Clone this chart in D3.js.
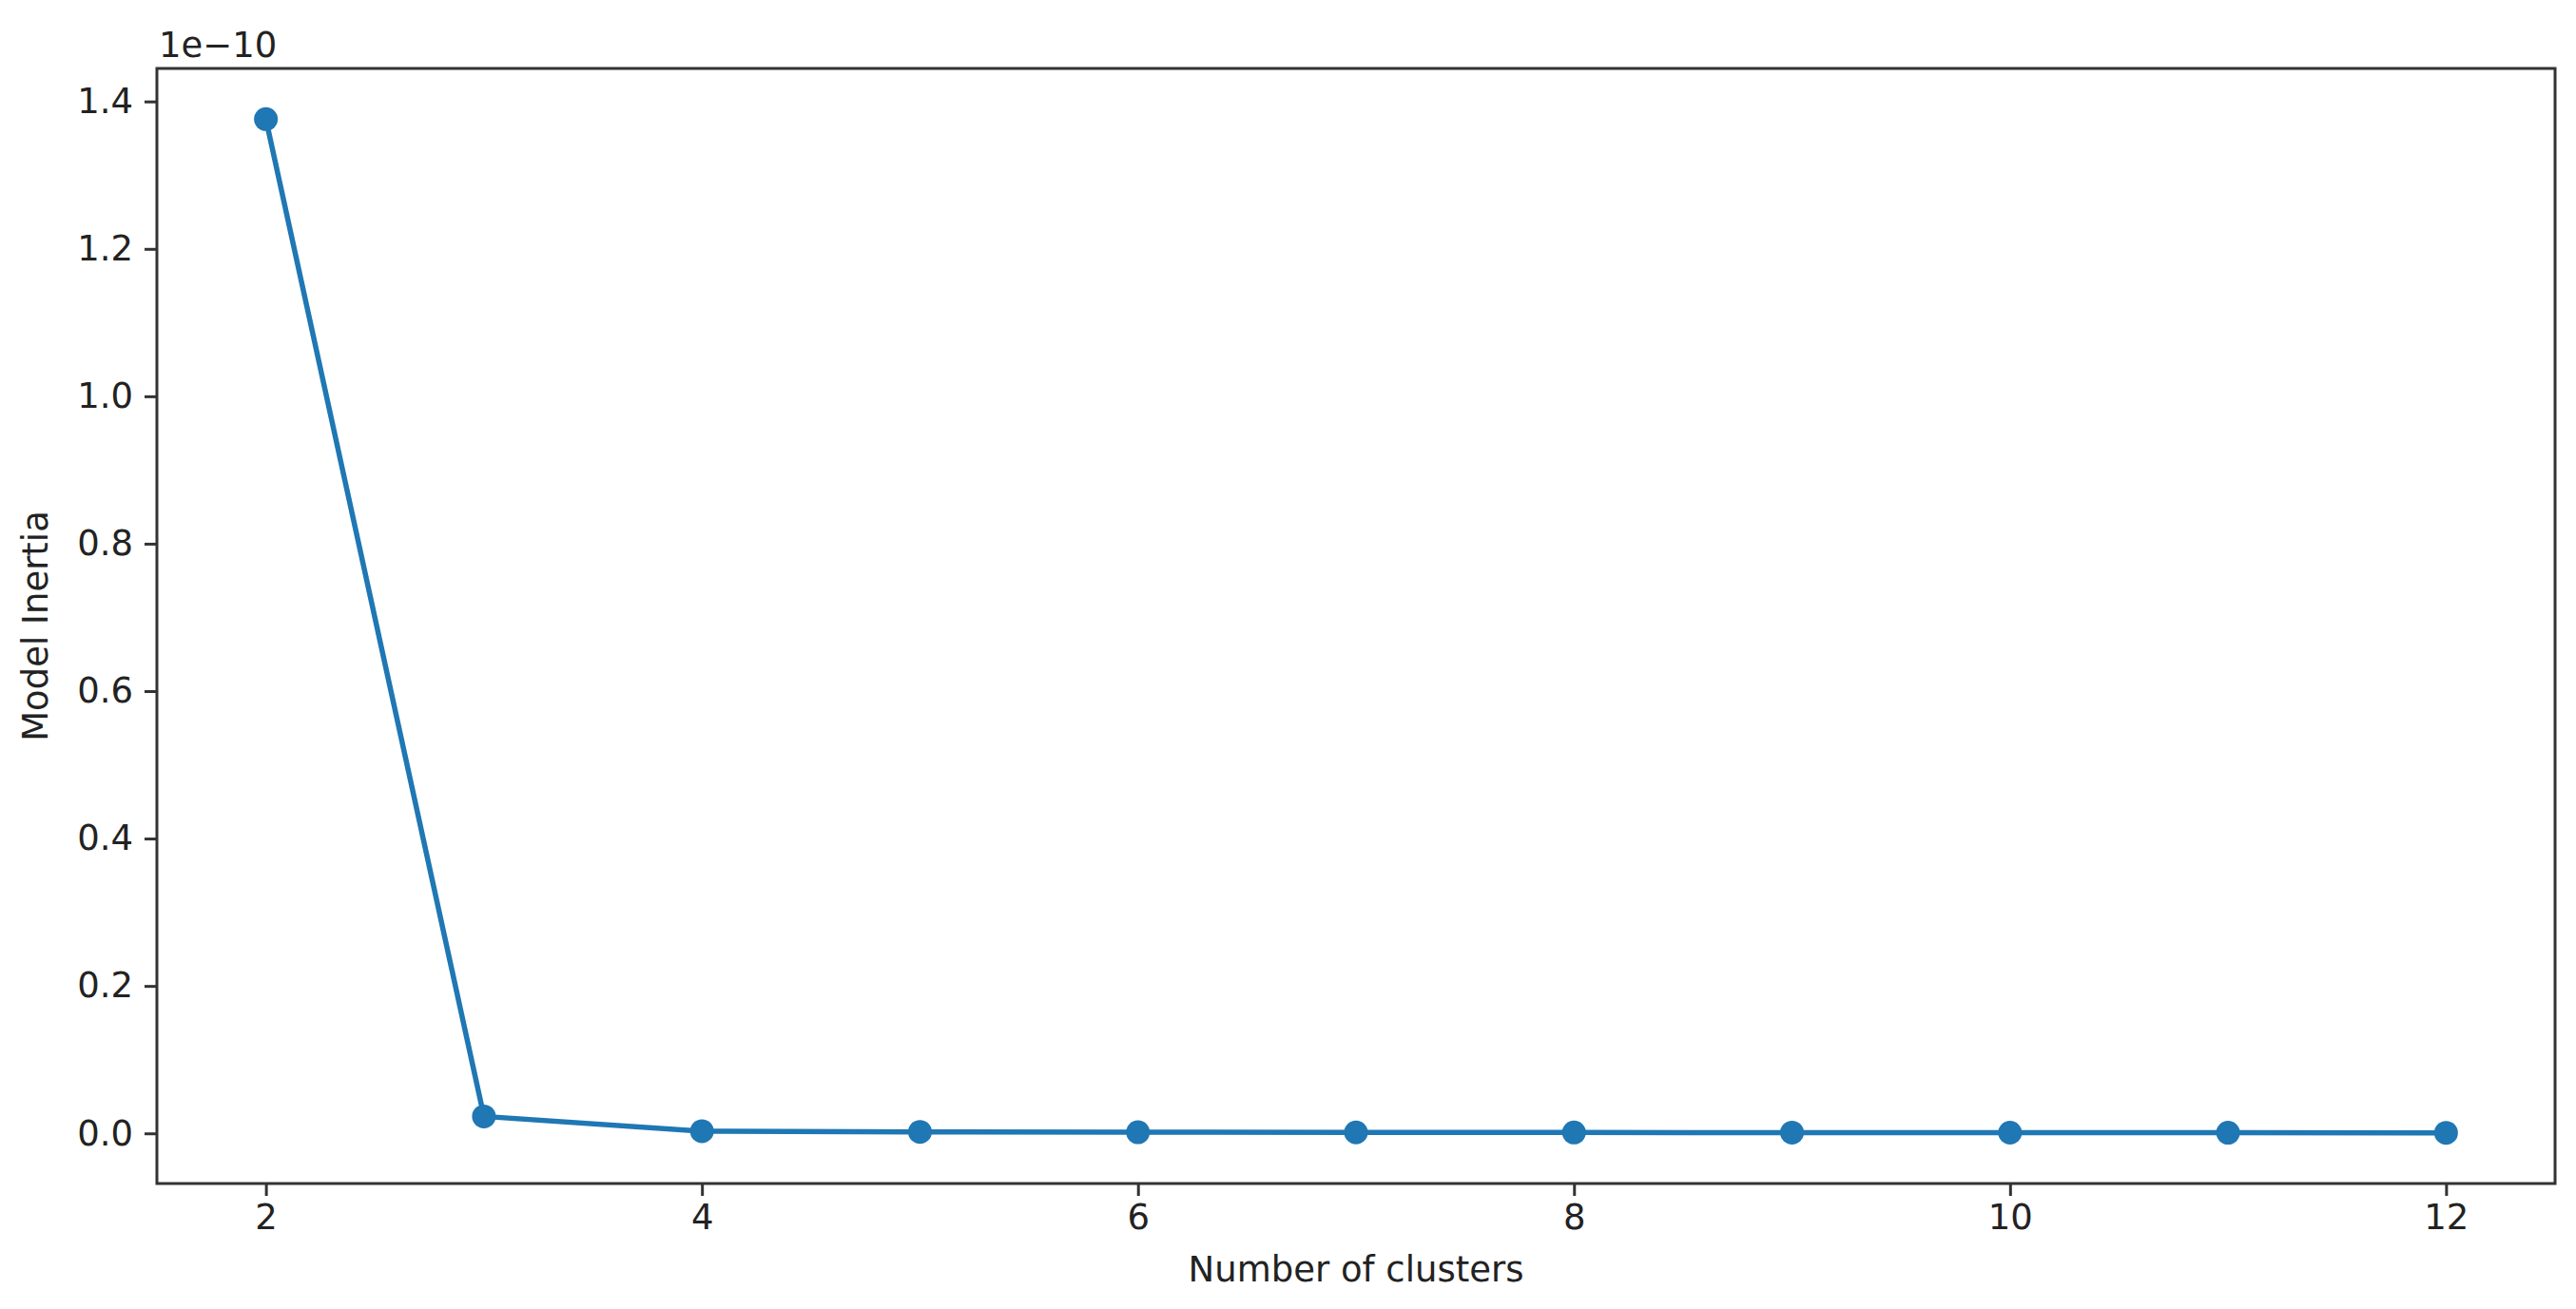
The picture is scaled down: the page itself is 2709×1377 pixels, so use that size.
<!DOCTYPE html>
<html>
<head>
<meta charset="utf-8">
<script src="https://cdn.jsdelivr.net/npm/d3@7"></script>
<style>
  body { margin: 0; background: #fff; }
  text { font-family: "DejaVu Sans", sans-serif; fill: #222; }
</style>
</head>
<body>
<svg width="2709" height="1377"></svg>
<script>
// inertia values are in units of 1e-10
var clusters = [2, 3, 4, 5, 6, 7, 8, 9, 10, 11, 12];
var inertia = [1.376, 0.023, 0.003, 0.002, 0.0015, 0.0013, 0.0011, 0.001, 0.0009, 0.0008, 0.0007];
var xTicks = [2, 4, 6, 8, 10, 12];
var yTicks = [0, 0.2, 0.4, 0.6, 0.8, 1.0, 1.2, 1.4];

var lineColor = "#1f77b4";
var spineColor = "#333";

var svg = d3.select("svg");
var axLeft = 165, axRight = 2687, axTop = 72, axBottom = 1245;

// matplotlib style 5% margins
var xExt = d3.extent(clusters), yExt = d3.extent(inertia);
var xPad = (xExt[1] - xExt[0]) * 0.05, yPad = (yExt[1] - yExt[0]) * 0.05;

var x = d3.scaleLinear().domain([xExt[0] - xPad, xExt[1] + xPad]).range([axLeft, axRight]);
var y = d3.scaleLinear().domain([yExt[0] - yPad, yExt[1] + yPad]).range([axBottom, axTop]);

var points = clusters.map(function (c, i) { return { c: c, v: inertia[i] }; });

var xAxis = svg.append("g")
    .attr("transform", "translate(0," + axBottom + ")")
    .call(d3.axisBottom(x).tickValues(xTicks).tickSize(13).tickPadding(9).tickFormat(d3.format("d")));

var yAxis = svg.append("g")
    .attr("transform", "translate(" + axLeft + ",0)")
    .call(d3.axisLeft(y).tickValues(yTicks).tickSize(13).tickPadding(12).tickFormat(d3.format(".1f")));

[xAxis, yAxis].forEach(function (a) {
    a.select(".domain").remove();
    a.selectAll(".tick line").attr("stroke", spineColor).attr("stroke-width", 3);
    a.selectAll(".tick text")
        .style("font-family", "DejaVu Sans, sans-serif")
        .style("font-size", "37px")
        .attr("fill", "#222");
});

var line = d3.line()
    .x(function (d) { return x(d.c); })
    .y(function (d) { return y(d.v); });

svg.append("path")
    .datum(points)
    .attr("fill", "none")
    .attr("stroke", lineColor)
    .attr("stroke-width", 5.5)
    .attr("d", line);

svg.append("g")
    .selectAll("circle")
    .data(points)
    .enter().append("circle")
    .attr("cx", function (d) { return x(d.c); })
    .attr("cy", function (d) { return y(d.v); })
    .attr("r", 12.5)
    .attr("fill", lineColor);

// axes frame
svg.append("rect")
    .attr("x", axLeft)
    .attr("y", axTop)
    .attr("width", axRight - axLeft)
    .attr("height", axBottom - axTop)
    .attr("fill", "none")
    .attr("stroke", spineColor)
    .attr("stroke-width", 3);

// offset text
svg.append("text")
    .attr("x", axLeft + 2)
    .attr("y", 60)
    .style("font-size", "37px")
    .text("1e\u221210");

svg.append("text")
    .attr("x", (axLeft + axRight) / 2)
    .attr("y", 1348)
    .attr("text-anchor", "middle")
    .style("font-size", "37px")
    .text("Number of clusters");

svg.append("text")
    .attr("transform", "translate(50," + (axTop + axBottom) / 2 + ") rotate(-90)")
    .attr("text-anchor", "middle")
    .style("font-size", "37px")
    .text("Model Inertia");
</script>
</body>
</html>
